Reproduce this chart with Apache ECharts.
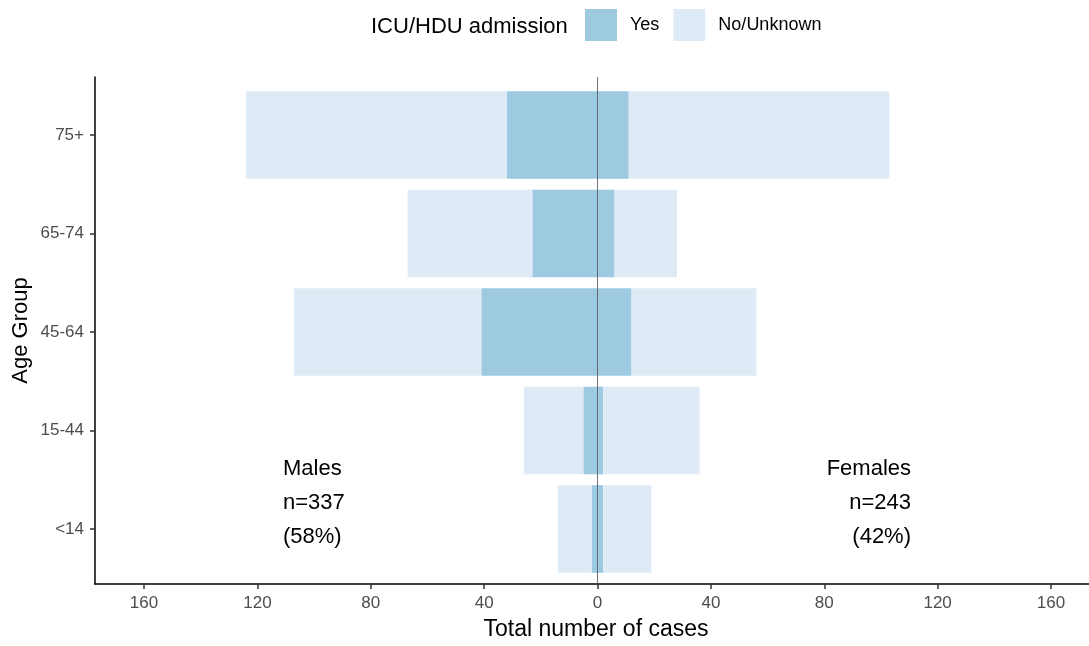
<!DOCTYPE html>
<html>
<head>
<meta charset="utf-8">
<script src="https://cdn.jsdelivr.net/npm/echarts@6/dist/echarts.min.js"></script>
<style>
  html, body { margin: 0; padding: 0; background: #fff; }
  #chart { width: 1089px; height: 646px; }
</style>
</head>
<body>
<div id="chart"></div>
<script>
// Age groups, bottom to top
const ageGroups = ['<14', '15-44', '45-64', '65-74', '75+'];

// case counts
const maleYes = [2, 5, 41, 23, 32];
const maleNo = [12, 21, 66, 44, 92];
const femaleYes = [2, 2, 12, 6, 11];
const femaleNo = [17, 34, 44, 22, 92];

const xTicks = [-160, -120, -80, -40, 0, 40, 80, 120, 160];

const yesColor = '#9ecae1';
const noColor = '#deebf7';
const font = 'Liberation Sans, Arial, sans-serif';

const xMin = -177.3;
const xMax = 173.4;

let myChart = echarts.init(document.getElementById('chart'));

const barSeries = (name, values, color, sign) => {
    return {
        name: name,
        type: 'bar',
        stack: 'all',
        xAxisIndex: 0,
        yAxisIndex: 0,
        barWidth: '89%',
        itemStyle: { color: color },
        emphasis: { disabled: true },
        data: values.map(v => sign * v)
    };
};

const option = {
    backgroundColor: '#ffffff',
    animation: false,
    textStyle: { fontFamily: font },
    legend: {
        left: 585,
        top: 9,
        padding: 0,
        itemWidth: 32,
        itemHeight: 32,
        itemGap: 14,
        icon: 'rect',
        selectedMode: false,
        data: ['Yes', 'No/Unknown'],
        textStyle: { fontSize: 18, color: '#000', fontFamily: font, padding: [0, 0, 0, 8] }
    },
    grid: [
        // bars
        { left: 95, right: 0, top: 85.75, bottom: 67.75 },
        // frame
        { left: 95, right: 0, top: 77, bottom: 61 }
    ],
    xAxis: [
        {
            gridIndex: 0, type: 'value', min: xMin, max: xMax,
            axisLine: { show: false }, axisTick: { show: false },
            axisLabel: { show: false }, splitLine: { show: false }
        },
        {
            gridIndex: 1, type: 'value', min: xMin, max: xMax,
            name: 'Total number of cases',
            nameLocation: 'middle',
            nameGap: 34,
            nameTextStyle: { fontSize: 23, color: '#000', fontFamily: font, padding: [0, 0, 0, 8] },
            axisLine: { show: true, onZero: false, lineStyle: { color: '#000', width: 1.5 } },
            axisTick: { show: true, length: 5, customValues: xTicks, lineStyle: { color: '#333', width: 1.5 } },
            axisLabel: {
                customValues: xTicks,
                fontSize: 17, color: '#4d4d4d', margin: 11, fontFamily: font,
                formatter: v => String(Math.abs(v))
            },
            splitLine: { show: false }
        }
    ],
    yAxis: [
        {
            gridIndex: 0, type: 'category', data: ageGroups,
            axisLine: { show: false, onZero: false },
            axisTick: { show: true, alignWithLabel: true, length: 5, lineStyle: { color: '#333', width: 1.5 } },
            axisLabel: { fontSize: 17, color: '#4d4d4d', margin: 11, fontFamily: font },
            splitLine: { show: false }
        },
        {
            gridIndex: 1, type: 'value', min: 0, max: 1,
            name: 'Age Group',
            nameLocation: 'middle',
            nameRotate: 90,
            nameGap: 63,
            nameTextStyle: { fontSize: 22, color: '#000', fontFamily: font },
            axisLine: { show: true, onZero: false, lineStyle: { color: '#000', width: 1.5 } },
            axisTick: { show: false },
            axisLabel: { show: false },
            splitLine: { show: false }
        }
    ],
    graphic: [
        { type: 'text', left: 371, top: 16, style: { text: 'ICU/HDU admission', fontSize: 22, fill: '#000', font: '22px ' + font } },
        { type: 'text', x: 283, y: 469, style: { text: 'Males', font: '22px ' + font, fill: '#000', textAlign: 'left', textVerticalAlign: 'middle' } },
        { type: 'text', x: 283, y: 503, style: { text: 'n=337', font: '22px ' + font, fill: '#000', textAlign: 'left', textVerticalAlign: 'middle' } },
        { type: 'text', x: 283, y: 537, style: { text: '(58%)', font: '22px ' + font, fill: '#000', textAlign: 'left', textVerticalAlign: 'middle' } },
        { type: 'text', x: 911, y: 469, style: { text: 'Females', font: '22px ' + font, fill: '#000', textAlign: 'right', textVerticalAlign: 'middle' } },
        { type: 'text', x: 911, y: 503, style: { text: 'n=243', font: '22px ' + font, fill: '#000', textAlign: 'right', textVerticalAlign: 'middle' } },
        { type: 'text', x: 911, y: 537, style: { text: '(42%)', font: '22px ' + font, fill: '#000', textAlign: 'right', textVerticalAlign: 'middle' } }
    ],
    series: [
        barSeries('Yes', maleYes, yesColor, -1),
        barSeries('Yes', femaleYes, yesColor, 1),
        barSeries('No/Unknown', maleNo, noColor, -1),
        barSeries('No/Unknown', femaleNo, noColor, 1),
        {
            // vertical line at zero
            name: 'zero',
            type: 'line',
            xAxisIndex: 1,
            yAxisIndex: 1,
            z: 5,
            symbol: 'none',
            silent: true,
            lineStyle: { color: '#4d4d4d', width: 0.8 },
            data: [[0, 0], [0, 1]]
        }
    ]
};

myChart.setOption(option, true);
</script>
</body>
</html>
